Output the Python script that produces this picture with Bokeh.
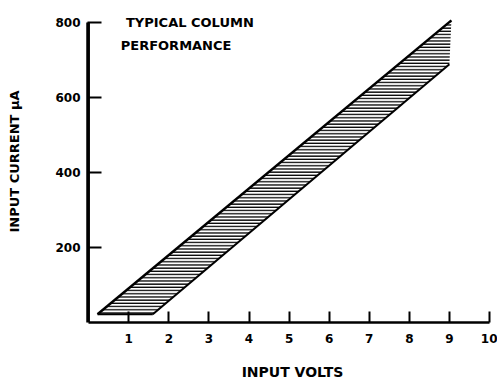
from bokeh.plotting import figure
from bokeh.models import FixedTicker, Range1d, Label, ColumnDataSource
from bokeh.embed import file_html
from bokeh.resources import INLINE

# Data
x_ticks = [1, 2, 3, 4, 5, 6, 7, 8, 9, 10]
y_ticks = [200, 400, 600, 800]
upper_x = [0.22, 9.05]
upper_y = [22, 805]
lower_x = [1.6, 9.0]
lower_y = [22, 688]

FONT = "DejaVu Sans"

p = figure(width=497, height=382,
           x_range=Range1d(-0.03, 10.2), y_range=Range1d(0, 858),
           output_backend="svg", toolbar_location=None,
           min_border_left=87, min_border_right=0,
           min_border_top=0, min_border_bottom=56)
p.grid.visible = False
p.outline_line_color = None
p.background_fill_color = "white"
p.border_fill_color = "white"

# band polygon: along upper line, down the right edge, back along lower line
band_x = upper_x + lower_x[::-1]
band_y = upper_y + lower_y[::-1]
src = ColumnDataSource(dict(x=band_x, y=band_y))
p.patch("x", "y", source=src, fill_color="white", fill_alpha=0,
        line_color=None, hatch_pattern="horizontal_line",
        hatch_color="black", hatch_scale=3.2, hatch_weight=1.4)
p.line(upper_x, upper_y, line_color="black", line_width=2.5)
p.line(lower_x, lower_y, line_color="black", line_width=2)
p.line([upper_x[0], lower_x[0]], [upper_y[0], lower_y[0]], line_color="black", line_width=2)

# vertical axis line (drawn as a glyph so it is visible)
p.segment(x0=[0], y0=[0], x1=[0], y1=[y_ticks[-1]], line_color="black", line_width=2.5)

# axes
xa = p.xaxis[0]
xa.bounds = (0, 10)
xa.ticker = FixedTicker(ticks=x_ticks)
xa.major_tick_in = 11
xa.major_tick_out = 0
xa.minor_tick_in = 0
xa.minor_tick_out = 0
xa.axis_line_color = "black"
xa.axis_line_width = 2.5
xa.major_tick_line_color = "black"
xa.major_tick_line_width = 2
xa.major_label_standoff = 11
xa.major_label_text_color = "black"
xa.major_label_text_font = FONT
xa.major_label_text_font_style = "bold"
xa.major_label_text_font_size = "12px"
xa.axis_label = "INPUT VOLTS"
xa.axis_label_text_color = "black"
xa.axis_label_text_font = FONT
xa.axis_label_text_font_style = "bold"
xa.axis_label_text_font_size = "14px"
xa.axis_label_standoff = 18

ya = p.yaxis[0]
ya.bounds = (0, 800)
ya.ticker = FixedTicker(ticks=y_ticks)
ya.major_tick_in = 14
ya.major_tick_out = 0
ya.minor_tick_in = 0
ya.minor_tick_out = 0
ya.axis_line_color = "black"
ya.axis_line_width = 2.5
ya.major_tick_line_color = "black"
ya.major_tick_line_width = 2
ya.major_label_standoff = 7
ya.major_label_text_color = "black"
ya.major_label_text_font = FONT
ya.major_label_text_font_style = "bold"
ya.major_label_text_font_size = "12px"
ya.axis_label = "INPUT CURRENT µA"
ya.axis_label_text_color = "black"
ya.axis_label_text_font = FONT
ya.axis_label_text_font_style = "bold"
ya.axis_label_text_font_size = "13px"
ya.axis_label_standoff = 30

for txt, xx, yy in [("TYPICAL COLUMN", 0.93, 800), ("PERFORMANCE", 0.8, 739)]:
    p.add_layout(Label(x=xx, y=yy, text=txt, text_font=FONT, text_color="black",
                       text_font_style="bold", text_font_size="13px",
                       text_baseline="middle", text_align="left"))

open("out.html", "w").write(file_html(p, INLINE))
